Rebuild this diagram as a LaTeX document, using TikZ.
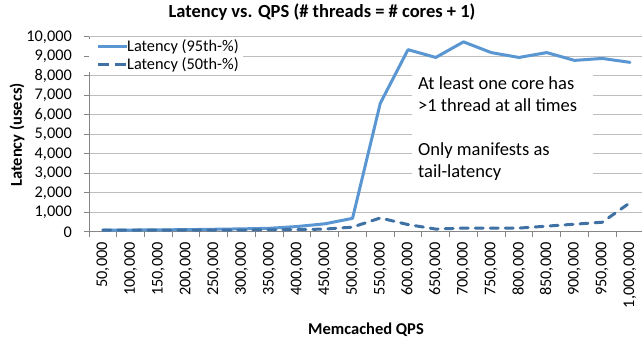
\documentclass[tikz,border=0pt]{standalone}
\usepackage{fontspec}
\setmainfont{Carlito}
\definecolor{serA}{RGB}{89,150,210}
\definecolor{serB}{RGB}{64,113,165}
\definecolor{gridc}{RGB}{190,190,190}
\definecolor{axisc}{RGB}{134,134,134}
\begin{document}
\begin{tikzpicture}[x=1pt,y=-1pt,
  gridline/.style={draw=gridc,line width=1pt},
  axisline/.style={draw=axisc,line width=1pt},
  ticklab/.style={font=\fontsize{16.3}{18}\selectfont,inner sep=0pt},
  axtitle/.style={font=\fontsize{16.5}{18}\selectfont\bfseries,inner sep=0pt},
  p95/.style={draw=serA,line width=3pt,line join=round,line cap=round},
  p50/.style={draw=serB,line width=3pt,line join=round,line cap=round,dash pattern=on 8pt off 7pt},
]
\useasboundingbox (0,0) rectangle (642,347);
\fill[white] (0,0) rectangle (642,347);

% horizontal gridlines, 1,000 usecs = 19.5pt
\foreach \v in {1,...,10}
  \draw[gridline] (89,{232-19.5*\v}) -- (642,{232-19.5*\v});

% axes and tick marks
\draw[axisline] (89,{232-195}) -- (89,232) -- (642,232);
\foreach \v in {0,...,10}
  \draw[axisline] (84,{232-19.5*\v}) -- (89,{232-19.5*\v});
\foreach \k in {0,...,20}
  \draw[axisline] ({89+27.74*\k},232) -- ({89+27.74*\k},237);

% y tick labels
\foreach \v/\t in {0/0,1/{1,000},2/{2,000},3/{3,000},4/{4,000},5/{5,000},
                   6/{6,000},7/{7,000},8/{8,000},9/{9,000},10/{10,000}}
  \node[ticklab,anchor=east] (yl\v) at (72,{232-19.5*\v}) {\t};

% x tick labels
\foreach \t [count=\i] in {{50,000},{100,000},{150,000},{200,000},{250,000},
    {300,000},{350,000},{400,000},{450,000},{500,000},{550,000},{600,000},
    {650,000},{700,000},{750,000},{800,000},{850,000},{900,000},{950,000},{1,000,000}}
  \node[ticklab,rotate=90,anchor=east] (xl\i) at ({89+27.74*(\i-0.5)},242) {\t};

% axis titles and chart title
\node[axtitle] (ttl) at (322,12) {\fontsize{18.5}{20}\selectfont Latency vs. QPS (\# threads = \# cores + 1)};
\node[axtitle,rotate=90] (ytl) at (17,135) {Latency (usecs)};
\node[axtitle] (xtl) at (366,330) {Memcached QPS};

% data points
\foreach \v [count=\i] in {100,100,110,120,140,160,190,280,420,700,
    6600,9350,8950,9750,9200,8950,9200,8800,8900,8700}
  \coordinate (a\i) at ({89+27.74*(\i-0.5)},{232-0.0195*\v});
\foreach \v [count=\i] in {100,100,100,100,100,100,110,120,150,250,
    720,380,150,200,200,200,300,400,500,1500}
  \coordinate (b\i) at ({89+27.74*(\i-0.5)},{232-0.0195*\v});

\draw[p95] (a1) \foreach \i in {2,...,20} { -- (a\i) };
\draw[p50] (b1) \foreach \i in {2,...,20} { -- (b\i) };

% legend
\node[fill=white,inner sep=0pt,minimum width=154,minimum height=33,anchor=north west] (leg) at (89,39) {};
\coordinate (l1a) at (98,46.5);  \coordinate (l1b) at (127,46.5);
\coordinate (l2a) at (98,65);    \coordinate (l2b) at (127,65);
\draw[p95,line cap=butt] (l1a) -- (l1b);
\draw[p50,line cap=butt,dash pattern=on 11pt off 6pt] (l2a) -- (l2b);
\node[ticklab,anchor=west] (leg1) at (l1b) {Latency (95th-\%)};
\node[ticklab,anchor=west] (leg2) at (l2b) {Latency (50th-\%)};

% annotation
\node[fill=white,inner sep=0pt,minimum width=181,minimum height=122,anchor=north west] (notebox) at (412,64) {};
\node[anchor=north west,inner sep=0pt,align=left,font=\fontsize{18.5}{22}\selectfont]
  (note) at ([xshift=6pt,yshift=-12pt]notebox.north west)
  {At least one core has\\>1 thread at all times\\[22pt]Only manifests as\\tail-latency};
\end{tikzpicture}
\end{document}
